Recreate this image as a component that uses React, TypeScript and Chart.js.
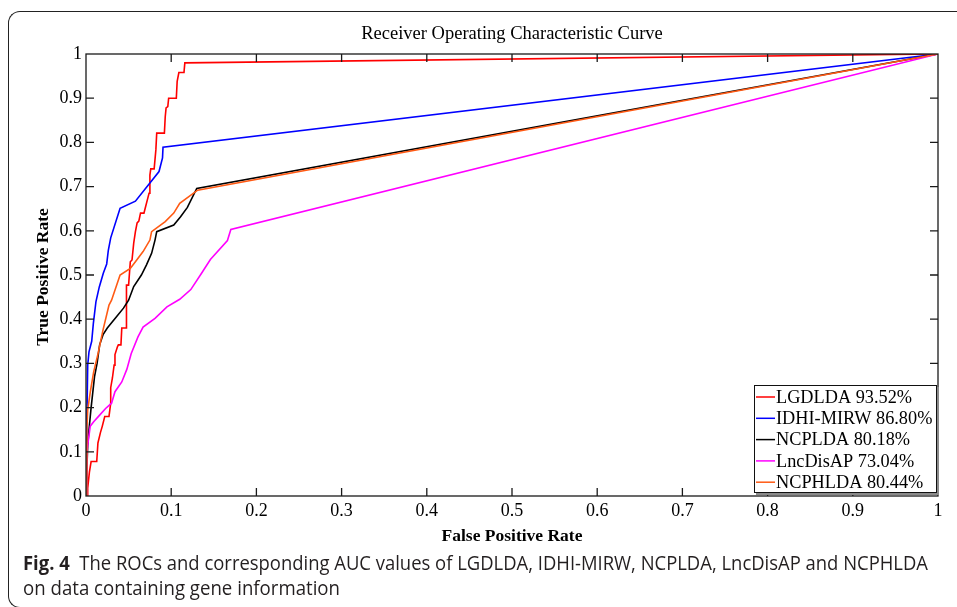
import React, { useEffect, useLayoutEffect, useRef } from 'react';
import { Chart, registerables } from 'chart.js';

Chart.register(...registerables);

const chartTitle = 'Receiver Operating Characteristic Curve';
const xAxisTitle = 'False Positive Rate';
const yAxisTitle = 'True Positive Rate';

const seriesNames = ['LGDLDA 93.52%', 'IDHI-MIRW 86.80%', 'NCPLDA 80.18%', 'LncDisAP 73.04%', 'NCPHLDA 80.44%'];
const seriesColors = ['#ff0000', '#0000ff', '#000000', '#ff00ff', '#ff5a14'];

const lgdldaFpr = [0, 0.002, 0.002, 0.004, 0.006, 0.0126, 0.014, 0.017, 0.019, 0.022, 0.027, 0.029, 0.029, 0.031, 0.033, 0.034, 0.037, 0.038, 0.041, 0.042, 0.047, 0.047, 0.048, 0.05, 0.052, 0.054, 0.056, 0.058, 0.06, 0.062, 0.064, 0.068, 0.07, 0.072, 0.074, 0.075, 0.076, 0.08, 0.082, 0.083, 0.092, 0.093, 0.094, 0.096, 0.097, 0.106, 0.107, 0.109, 0.115, 0.116, 1];
const lgdldaTpr = [0, 0, 0.018, 0.054, 0.078, 0.078, 0.12, 0.144, 0.157, 0.18, 0.18, 0.21, 0.245, 0.267, 0.296, 0.32, 0.338, 0.342, 0.342, 0.38, 0.38, 0.437, 0.477, 0.477, 0.53, 0.534, 0.572, 0.598, 0.618, 0.622, 0.64, 0.64, 0.655, 0.67, 0.685, 0.726, 0.74, 0.74, 0.783, 0.821, 0.821, 0.858, 0.878, 0.881, 0.9, 0.9, 0.938, 0.958, 0.958, 0.98, 1];

const idhiFpr = [0, 0.001, 0.002, 0.0035, 0.0067, 0.0086, 0.0117, 0.0156, 0.0203, 0.0243, 0.0262, 0.029, 0.04, 0.058, 0.0857, 0.0898, 0.0904, 1];
const idhiTpr = [0, 0.17, 0.296, 0.326, 0.35, 0.39, 0.44, 0.473, 0.504, 0.525, 0.556, 0.584, 0.651, 0.667, 0.734, 0.765, 0.789, 1];

const ncpldaFpr = [0, 0.001, 0.002, 0.004, 0.006, 0.008, 0.01, 0.013, 0.016, 0.02, 0.025, 0.036, 0.044, 0.05, 0.056, 0.065, 0.071, 0.077, 0.081, 0.083, 0.103, 0.111, 0.119, 0.13, 1];
const ncpldaTpr = [0, 0.06, 0.115, 0.16, 0.2, 0.235, 0.27, 0.3, 0.342, 0.365, 0.38, 0.406, 0.425, 0.443, 0.474, 0.5, 0.523, 0.549, 0.579, 0.598, 0.613, 0.632, 0.653, 0.696, 1];

const lncdisapFpr = [0, 0.001, 0.003, 0.005, 0.009, 0.016, 0.023, 0.03, 0.034, 0.042, 0.048, 0.053, 0.061, 0.067, 0.081, 0.095, 0.11, 0.123, 0.136, 0.146, 0.166, 0.17, 1];
const lncdisapTpr = [0, 0.1, 0.13, 0.158, 0.168, 0.183, 0.198, 0.21, 0.236, 0.258, 0.287, 0.322, 0.36, 0.382, 0.402, 0.428, 0.445, 0.467, 0.505, 0.535, 0.578, 0.603, 1];

const ncphldaFpr = [0, 0.001, 0.002, 0.005, 0.009, 0.014, 0.02, 0.027, 0.03, 0.04, 0.052, 0.058, 0.067, 0.075, 0.077, 0.093, 0.103, 0.11, 0.131, 1];
const ncphldaTpr = [0, 0.15, 0.195, 0.235, 0.281, 0.321, 0.376, 0.432, 0.443, 0.5, 0.515, 0.53, 0.553, 0.579, 0.598, 0.621, 0.64, 0.662, 0.692, 1];

const tickValues = [0, 0.1, 0.2, 0.3, 0.4, 0.5, 0.6, 0.7, 0.8, 0.9, 1];
const tickLabels = ['0', '0.1', '0.2', '0.3', '0.4', '0.5', '0.6', '0.7', '0.8', '0.9', '1'];

const captionBold = 'Fig. 4';
const captionLine1 = 'The ROCs and corresponding AUC values of LGDLDA, IDHI-MIRW, NCPLDA, LncDisAP and NCPHLDA';
const captionLine2 = 'on data containing gene information';

const seriesX = [lgdldaFpr, idhiFpr, ncpldaFpr, lncdisapFpr, ncphldaFpr];
const seriesY = [lgdldaTpr, idhiTpr, ncpldaTpr, lncdisapTpr, ncphldaTpr];

const SERIF = '"Liberation Serif", "Times New Roman", serif';

const decorPlugin = {
  id: 'decor',
  afterDatasetsDraw(chart: any) {
    const { ctx, chartArea: a, scales } = chart;
    ctx.save();
    // axes box
    ctx.strokeStyle = '#1a1a1a';
    ctx.lineWidth = 1.3;
    ctx.strokeRect(a.left, a.top, a.right - a.left, a.bottom - a.top);
    // inward ticks
    const tl = 8;
    ctx.beginPath();
    tickValues.forEach((v) => {
      if (v === 0 || v === 1) return;
      const px = scales.x.getPixelForValue(v);
      ctx.moveTo(px, a.bottom); ctx.lineTo(px, a.bottom - tl);
      ctx.moveTo(px, a.top); ctx.lineTo(px, a.top + tl);
      const py = scales.y.getPixelForValue(v);
      ctx.moveTo(a.left, py); ctx.lineTo(a.left + tl, py);
      ctx.moveTo(a.right, py); ctx.lineTo(a.right - tl, py);
    });
    ctx.stroke();

    // title
    ctx.fillStyle = '#000';
    ctx.textAlign = 'center';
    ctx.textBaseline = 'middle';
    ctx.font = `18.5px ${SERIF}`;
    ctx.fillText(chartTitle, (a.left + a.right) / 2, 34);
    // axis titles
    ctx.font = `bold 17.5px ${SERIF}`;
    ctx.fillText(xAxisTitle, (a.left + a.right) / 2, 536);
    ctx.save();
    ctx.translate(43, (a.top + a.bottom) / 2 + 2);
    ctx.rotate(-Math.PI / 2);
    ctx.fillText(yAxisTitle, 0, 0);
    ctx.restore();

    // legend
    const lx = 754, ly = 385, lw = 183, lh = 108;
    ctx.fillStyle = '#8a8a8a';
    ctx.fillRect(lx + 2, ly + 2, lw, lh);
    ctx.fillStyle = '#fff';
    ctx.fillRect(lx, ly, lw, lh);
    ctx.strokeStyle = '#111';
    ctx.lineWidth = 1;
    ctx.strokeRect(lx + 0.5, ly + 0.5, lw - 1, lh - 1);
    ctx.font = `18.3px ${SERIF}`;
    ctx.textAlign = 'left';
    chart.data.datasets.forEach((ds: any, i: number) => {
      const y = ly + 12 + i * 21.3;
      ctx.strokeStyle = ds.borderColor;
      ctx.lineWidth = 1.5;
      ctx.beginPath();
      ctx.moveTo(lx + 2, y);
      ctx.lineTo(lx + 21, y);
      ctx.stroke();
      ctx.fillStyle = '#000';
      ctx.fillText(ds.label, lx + 22, y + 1);
    });
    ctx.restore();
  },
};

function fitWidth(el: HTMLElement | null, target: number) {
  if (!el) return;
  el.style.transform = 'none';
  const w = el.getBoundingClientRect().width;
  if (w > 0) el.style.transform = `scaleX(${target / w})`;
}

export default function App() {
  const canvasRef = useRef<HTMLCanvasElement>(null);
  const cap1Ref = useRef<HTMLDivElement>(null);
  const cap2Ref = useRef<HTMLDivElement>(null);

  useLayoutEffect(() => {
    const run = () => {
      fitWidth(cap1Ref.current, 905);
      fitWidth(cap2Ref.current, 317);
    };
    run();
    if ((document as any).fonts && (document as any).fonts.ready) {
      (document as any).fonts.ready.then(run);
    }
  }, []);

  useEffect(() => {
    if (!canvasRef.current) return;
    const datasets = seriesNames.map((name, i) => ({
      label: name,
      data: seriesX[i].map((x, j) => ({ x, y: seriesY[i][j] })),
      borderColor: seriesColors[i],
      backgroundColor: seriesColors[i],
      borderWidth: 1.6,
      pointRadius: 0,
      tension: 0,
      fill: false,
      order: seriesNames.length - i,
    }));
    const tickFont = { family: SERIF, size: 18 };
    const chart = new Chart(canvasRef.current, {
      type: 'line',
      data: { datasets },
      plugins: [decorPlugin],
      options: {
        animation: false,
        responsive: false,
        devicePixelRatio: 1,
        layout: { padding: { left: 0, top: 54, right: 19, bottom: 0 } },
        plugins: { legend: { display: false }, title: { display: false }, tooltip: { enabled: false } },
        scales: {
          x: {
            type: 'linear',
            min: 0,
            max: 1,
            afterBuildTicks: (s: any) => { s.ticks = tickValues.map((v) => ({ value: v })); },
            afterFit: (s: any) => { s.height = 111; },
            ticks: {
              autoSkip: false,
              maxRotation: 0,
              padding: 4,
              color: '#000',
              font: tickFont,
              callback: (v: any, i: number) => tickLabels[i],
            },
            grid: { display: false, drawTicks: false },
            border: { display: false },
          },
          y: {
            type: 'linear',
            min: 0,
            max: 1,
            afterBuildTicks: (s: any) => { s.ticks = tickValues.map((v) => ({ value: v })); },
            afterFit: (s: any) => { s.width = 86; },
            ticks: {
              autoSkip: false,
              padding: 4,
              color: '#000',
              font: tickFont,
              callback: (v: any, i: number) => tickLabels[i],
            },
            grid: { display: false, drawTicks: false },
            border: { display: false },
          },
        },
      } as any,
    });
    return () => chart.destroy();
  }, []);

  const capFont = '"Open Sans", "Noto Sans", sans-serif';
  return (
    <div style={{ position: 'absolute', left: 0, top: 0, width: 957, height: 607, overflow: 'hidden', background: '#fff' }}>
      <div
        style={{
          position: 'absolute',
          left: 8,
          top: 11,
          width: 1100,
          height: 595,
          borderTop: '1px solid #222',
          borderLeft: '1px solid #222',
          borderBottom: '1px solid #222',
          borderTopLeftRadius: 12,
          borderBottomLeftRadius: 12,
        }}
      />
      <canvas ref={canvasRef} width={957} height={607} style={{ position: 'absolute', left: 0, top: 0, width: 957, height: 607 }} />
      <div
        ref={cap1Ref}
        style={{
          position: 'absolute', left: 23, top: 550, whiteSpace: 'nowrap', display: 'inline-block',
          transformOrigin: 'left top', fontFamily: capFont, fontSize: 20, lineHeight: '25px', color: '#231f20',
        }}
      >
        <b>{captionBold}</b>{'\u00a0\u00a0'}{captionLine1}
      </div>
      <div
        ref={cap2Ref}
        style={{
          position: 'absolute', left: 23, top: 575, whiteSpace: 'nowrap', display: 'inline-block',
          transformOrigin: 'left top', fontFamily: capFont, fontSize: 20, lineHeight: '25px', color: '#231f20',
        }}
      >
        {captionLine2}
      </div>
    </div>
  );
}
